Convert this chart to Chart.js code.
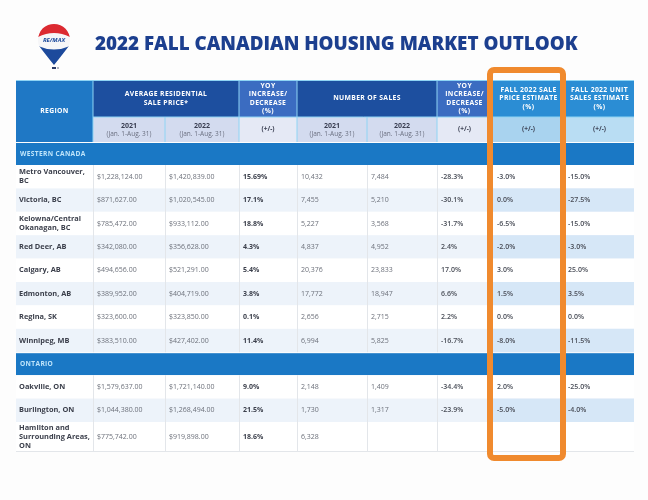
<!DOCTYPE html>
<html>
<head>
<meta charset="utf-8">
<script src="https://cdn.jsdelivr.net/npm/chart.js@4.4.0/dist/chart.umd.min.js"></script>
<style>
html, body { margin:0; padding:0; background:#fdfdfd; }
#wrap { width:648px; height:500px; position:relative; }
</style>
</head>
<body>
<div id="wrap"><canvas id="Chart1"></canvas></div>
<script>
// datos de la tabla
let title = "2022 FALL CANADIAN HOUSING MARKET OUTLOOK"
let sections = ["WESTERN CANADA", "ONTARIO"]
let sectionSize = [8, 3]
let regions = [
    ["Metro Vancouver,", "BC"], ["Victoria, BC"], ["Kelowna/Central", "Okanagan, BC"],
    ["Red Deer, AB"], ["Calgary, AB"], ["Edmonton, AB"], ["Regina, SK"], ["Winnipeg, MB"],
    ["Oakville, ON"], ["Burlington, ON"], ["Hamilton and", "Surrounding Areas,", "ON"]
]
let price2021 = [1228124, 871627, 785472, 342080, 494656, 389952, 323600, 383510, 1579637, 1044380, 775742]
let price2022 = [1420839, 1020545, 933112, 356628, 521291, 404719, 323850, 427402, 1721140, 1268494, 919898]
let priceYoy = [15.69, 17.1, 18.8, 4.3, 5.4, 3.8, 0.1, 11.4, 9.0, 21.5, 18.6]
let sales2021 = [10432, 7455, 5227, 4837, 20376, 17772, 2656, 6994, 2148, 1730, 6328]
// la ultima fila esta tapada en la imagen
let sales2022 = [7484, 5210, 3568, 4952, 23833, 18947, 2715, 5825, 1409, 1317, null]
let salesYoy = [-28.3, -30.1, -31.7, 2.4, 17.0, 6.6, 2.2, -16.7, -34.4, -23.9, null]
let priceEstimate = [-3.0, 0.0, -6.5, -2.0, 3.0, 1.5, 0.0, -8.0, 2.0, -5.0, null]
let unitsEstimate = [-15.0, -27.5, -15.0, -3.0, 25.0, 3.5, 0.0, -11.5, -25.0, -4.0, null]

let yoyHeader = ["YOY", "INCREASE/", "DECREASE", "(%)"]
let headerTop = [
    ["REGION"], ["AVERAGE RESIDENTIAL", "SALE PRICE*"], yoyHeader, ["NUMBER OF SALES"], yoyHeader,
    ["FALL 2022 SALE", "PRICE ESTIMATE", "(%)"], ["FALL 2022 UNIT", "SALES ESTIMATE", "(%)"]
]
let years = ["2021", "2022"]
let period = "(Jan. 1-Aug. 31)"
let signLabel = "(+/-)"

// estilos
let colWidths = [77, 72, 74, 58, 70, 70, 55, 73, 69]
let colEdges = colWidths.reduce((acc, w) => { acc.push(acc[acc.length - 1] + w); return acc }, [0])
let h1 = 37, h2 = 25, secH = 23, rowH = 23.4, rowH3 = 30
let totalH = h1 + h2 + sections.length * secH + regions.reduce((a, r) => a + (r.length > 2 ? rowH3 : rowH), 0)

const FONT = "'Open Sans', 'Liberation Sans', sans-serif"

const money = v => "$" + v.toLocaleString("en-US", { minimumFractionDigits: 2, maximumFractionDigits: 2 })
const count = v => v == null ? "" : v.toLocaleString("en-US")
const pct = v => {
    if (v == null) return ""
    let d = Math.abs(Math.round(v * 10) - v * 10) < 1e-6 ? 1 : 2
    return v.toFixed(d) + "%"
}

function lines(ctx, arr, x, yc, lh) {
    let y0 = yc - (arr.length - 1) * lh / 2
    arr.forEach((t, i) => ctx.fillText(t, x, y0 + i * lh))
}

// globo de RE/MAX
function drawLogo(ctx) {
    let cx = 54, cy = 40, r = 16
    ctx.save()
    ctx.beginPath()
    ctx.arc(cx, cy, r, Math.PI * 0.88, Math.PI * 2.12)
    ctx.quadraticCurveTo(cx + r * 0.55, cy + 14, cx, cy + 25)
    ctx.quadraticCurveTo(cx - r * 0.55, cy + 14, cx - r * 0.93, cy + r * 0.37)
    ctx.closePath()
    ctx.clip()
    ctx.fillStyle = "#f6f6f8"
    ctx.fillRect(cx - r - 2, cy - r - 2, 2 * r + 4, 45)
    ctx.fillStyle = "#dc2a31"
    ctx.beginPath()
    ctx.moveTo(cx - r - 2, cy - r - 2)
    ctx.lineTo(cx + r + 2, cy - r - 2)
    ctx.lineTo(cx + r + 2, cy - 2)
    ctx.quadraticCurveTo(cx, cy - 12, cx - r - 2, cy - 2)
    ctx.closePath()
    ctx.fill()
    ctx.fillStyle = "#1d4a9c"
    ctx.beginPath()
    ctx.moveTo(cx - r - 2, cy + 5)
    ctx.quadraticCurveTo(cx, cy + 14, cx + r + 2, cy + 5)
    ctx.lineTo(cx + r + 2, cy + 30)
    ctx.lineTo(cx - r - 2, cy + 30)
    ctx.closePath()
    ctx.fill()
    ctx.restore()
    ctx.fillStyle = "#1d4a9c"
    ctx.font = `italic bold 6px ${FONT}`
    ctx.textAlign = "center"
    ctx.textBaseline = "middle"
    ctx.fillText("RE/MAX", cx, cy + 0.5)
    ctx.fillStyle = "#2b3a66"
    ctx.fillRect(cx - 2, 67, 4, 2)
    ctx.fillStyle = "#b0b4c0"
    ctx.fillRect(cx + 3, 67, 2, 2)
}

let tablePlugin = {
    id: "tabla",
    beforeDraw(chart) {
        let ctx = chart.ctx
        ctx.save()
        ctx.fillStyle = "#fdfdfd"
        ctx.fillRect(0, 0, chart.width, chart.height)
        ctx.restore()
    },
    afterDraw(chart) {
        let ctx = chart.ctx
        let xs = chart.scales.x, ys = chart.scales.y
        let X = i => xs.getPixelForValue(colEdges[i])
        let Y = v => ys.getPixelForValue(v)
        ctx.save()
        ctx.textBaseline = "middle"

        // titulo
        ctx.fillStyle = "#1c3f8f"
        let size = 20
        ctx.font = `800 ${size}px ${FONT}`
        let w = ctx.measureText(title).width
        size = size * 483 / w
        ctx.font = `800 ${size}px ${FONT}`
        ctx.textAlign = "left"
        ctx.fillText(title, 95, 45)
        drawLogo(ctx)
        ctx.textBaseline = "middle"

        // encabezado fila 1
        let spans = [[0, 1], [1, 3], [3, 4], [4, 6], [6, 7], [7, 8], [8, 9]]
        let topColors = ["#1f78c5", "#1d4f9f", "#3b6cc1", "#1d4f9f", "#3b6cc1", "#2b8dd4", "#2b8dd4"]
        spans.forEach((s, i) => {
            let bottom = i === 0 ? Y(h1 + h2) : Y(h1)
            ctx.fillStyle = topColors[i]
            ctx.fillRect(X(s[0]), Y(0), X(s[1]) - X(s[0]), bottom - Y(0))
            ctx.fillStyle = "#ffffff"
            ctx.font = `bold 6.8px ${FONT}`
            ctx.letterSpacing = "0.35px"
            ctx.textAlign = "center"
            lines(ctx, headerTop[i], (X(s[0]) + X(s[1])) / 2, (Y(0) + bottom) / 2, 8.6)
        })

        // encabezado fila 2
        let subColors = ["", "#d3dbef", "#d3dbef", "#e5e9f5", "#d3dbef", "#d3dbef", "#e5e9f5", "#a9d3ef", "#b9ddf3"]
        for (let c = 1; c < 9; c++) {
            let x0 = X(c), x1 = X(c + 1), yt = Y(h1), yb = Y(h1 + h2)
            ctx.fillStyle = subColors[c]
            ctx.fillRect(x0, yt, x1 - x0, yb - yt)
            let cx = (x0 + x1) / 2, cy = (yt + yb) / 2
            ctx.letterSpacing = "0px"
            ctx.textAlign = "center"
            if (c === 1 || c === 2 || c === 4 || c === 5) {
                ctx.fillStyle = "#3a3f52"
                ctx.font = `bold 7px ${FONT}`
                ctx.fillText(years[(c - 1) % 3 === 0 ? 0 : 1], cx, cy - 4)
                ctx.fillStyle = "#6b7080"
                ctx.font = `6.5px ${FONT}`
                ctx.fillText(period, cx, cy + 5)
            } else {
                ctx.fillStyle = "#3a3f52"
                ctx.font = `bold 6.5px ${FONT}`
                ctx.fillText(signLabel, cx, cy)
            }
        }

        // lineas del encabezado
        ctx.strokeStyle = "#8fd4f4"
        ctx.lineWidth = 1
        ctx.beginPath()
        ctx.moveTo(X(0), Y(0) + 0.5); ctx.lineTo(X(9), Y(0) + 0.5)
        ctx.moveTo(X(1), Y(h1)); ctx.lineTo(X(9), Y(h1))
        for (let c = 1; c < 9; c++) {
            let top = (c === 2 || c === 5) ? Y(h1) : Y(0)
            ctx.moveTo(X(c), top); ctx.lineTo(X(c), Y(h1 + h2))
        }
        ctx.stroke()

        // cuerpo
        let y = h1 + h2
        let r = 0
        let bodyTop = []
        sections.forEach((sec, si) => {
            ctx.fillStyle = "#1a78c5"
            ctx.fillRect(X(0), Y(y) + 1, X(9) - X(0), Y(y + secH) - Y(y) - 1)
            ctx.fillStyle = "#bfe5fb"
            ctx.font = `bold 6.6px ${FONT}`
            ctx.letterSpacing = "0.35px"
            ctx.textAlign = "left"
            ctx.fillText(sec, X(0) + 4, (Y(y) + Y(y + secH)) / 2 + 0.5)
            ctx.letterSpacing = "0px"
            y += secH
            let start = y
            for (let k = 0; k < sectionSize[si]; k++, r++) {
                let h = regions[r].length > 2 ? rowH3 : rowH
                let yt = Y(y), yb = Y(y + h), cy = (yt + yb) / 2
                let light = k % 2 === 1
                ctx.fillStyle = light ? "#edf3fa" : "#ffffff"
                ctx.fillRect(X(0), yt, X(9) - X(0), yb - yt)
                if (light) {
                    ctx.fillStyle = "#d6e7f7"
                    ctx.fillRect(X(7), yt, X(9) - X(7), yb - yt)
                }
                let cells = [
                    regions[r], money(price2021[r]), money(price2022[r]), pct(priceYoy[r]),
                    count(sales2021[r]), count(sales2022[r]), pct(salesYoy[r]),
                    pct(priceEstimate[r]), pct(unitsEstimate[r])
                ]
                let weights = ["bold", "normal", "normal", "bold", "normal", "normal", "600", "600", "600"]
                let colors = ["#3b3f4b", "#6d717b", "#6d717b", "#3b3f4b", "#6d717b", "#6d717b", "#4a4e58", "#4a4e58", "#4a4e58"]
                cells.forEach((v, c) => {
                    ctx.fillStyle = colors[c]
                    ctx.font = `${weights[c]} ${c === 0 ? 7.4 : 7}px ${FONT}`
                    ctx.textAlign = "left"
                    let pad = c === 0 ? 3 : (c >= 7 ? 5 : 4)
                    if (c === 8) pad = 3
                    if (Array.isArray(v)) lines(ctx, v, X(c) + pad, cy, 9)
                    else ctx.fillText(v, X(c) + pad, cy)
                })
                y += h
            }
            bodyTop.push([start, y])
        })

        // lineas verticales del cuerpo
        ctx.strokeStyle = "#e3e6ea"
        ctx.beginPath()
        bodyTop.forEach(([a, b]) => {
            for (let c = 1; c < 9; c++) {
                ctx.moveTo(Math.round(X(c)) + 0.5, Y(a)); ctx.lineTo(Math.round(X(c)) + 0.5, Y(b))
            }
        })
        ctx.moveTo(X(0), Y(totalH) - 0.5); ctx.lineTo(X(9), Y(totalH) - 0.5)
        ctx.stroke()

        // recuadro naranja
        ctx.strokeStyle = "#f08a2e"
        ctx.lineWidth = 6
        ctx.beginPath()
        ctx.roundRect(X(7) - 2, 70, X(8) - X(7), Y(totalH) + 6 - 70, 4)
        ctx.stroke()
        ctx.restore()
    }
}

new Chart(document.getElementById("Chart1"), {
    type: "scatter",
    data: { datasets: [] },
    options: {
        maintainAspectRatio: false,
        responsive: true,
        animation: false,
        layout: { padding: { left: 16, right: 14, top: 80, bottom: 48 } },
        scales: {
            x: { type: "linear", min: 0, max: colEdges[colEdges.length - 1], display: false },
            y: { type: "linear", min: 0, max: totalH, reverse: true, display: false }
        },
        plugins: {
            legend: { display: false },
            tooltip: { enabled: false },
            title: { display: false }
        }
    },
    plugins: [tablePlugin]
})
</script>
</body>
</html>
